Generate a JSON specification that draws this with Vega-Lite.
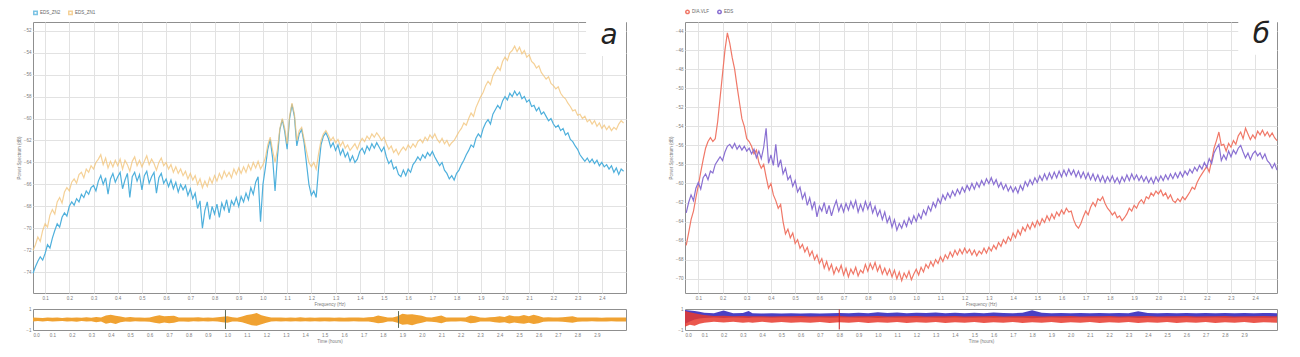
{
"$schema":"https://vega.github.io/schema/vega-lite/v6.json",
"background":"white",
"padding":{"left":15,"top":9,"right":5,"bottom":5},
"config":{
 "font":"Liberation Sans",
 "view":{"stroke":"#8f8f8f","fill":"white"},
 "axis":{"labelFontSize":4.5,"labelColor":"#7a7a7a","titleFontSize":4.5,"titleColor":"#7a7a7a","titleFontWeight":"normal","gridColor":"#e2e2e2","domain":false,"ticks":false,"labelPadding":2,"titlePadding":2,"labelOverlap":false,"labelBound":false,"tickCount":100},
 "legend":{"labelFontSize":4.5,"labelColor":"#666","orient":"top","direction":"horizontal","title":null,"symbolSize":12,"offset":3,"padding":0,"columnPadding":4,"labelOffset":2}
},
"datasets":{
"one":[{}],
"spA":[
{"f":0.05,"b":-74.1,"o":-72.0},{"f":0.06,"b":-73.5,"o":-71.5},{"f":0.07,"b":-73.0,"o":-70.8},{"f":0.08,"b":-72.6,"o":-71.2},{"f":0.09,"b":-72.9,"o":-70.2},{"f":0.10,"b":-72.3,"o":-69.6},{"f":0.11,"b":-71.5,"o":-69.9},{"f":0.12,"b":-71.8,"o":-68.8},{"f":0.13,"b":-70.9,"o":-68.3},{"f":0.14,"b":-70.2,"o":-68.7},{"f":0.15,"b":-69.6,"o":-67.6},{"f":0.16,"b":-69.9,"o":-67.2},{"f":0.17,"b":-69.0,"o":-67.7},{"f":0.18,"b":-68.6,"o":-66.7},{"f":0.19,"b":-68.9,"o":-66.3},{"f":0.20,"b":-68.0,"o":-66.6},{"f":0.21,"b":-67.6,"o":-65.8},{"f":0.22,"b":-67.9,"o":-65.5},{"f":0.23,"b":-67.3,"o":-65.9},{"f":0.24,"b":-67.6,"o":-65.1},{"f":0.25,"b":-66.9,"o":-64.9},{"f":0.26,"b":-67.2,"o":-65.4},{"f":0.27,"b":-66.6,"o":-64.6},{"f":0.28,"b":-66.9,"o":-64.9},{"f":0.29,"b":-66.3,"o":-64.3},{"f":0.30,"b":-66.1,"o":-64.6},{"f":0.31,"b":-66.6,"o":-64.0},{"f":0.32,"b":-65.7,"o":-63.7},{"f":0.33,"b":-65.2,"o":-63.3},{"f":0.34,"b":-66.0,"o":-64.2},{"f":0.35,"b":-65.4,"o":-63.6},{"f":0.36,"b":-66.9,"o":-64.5},{"f":0.37,"b":-65.5,"o":-63.9},{"f":0.38,"b":-65.0,"o":-64.4},{"f":0.39,"b":-65.8,"o":-63.8},{"f":0.40,"b":-65.3,"o":-64.3},{"f":0.41,"b":-64.9,"o":-63.7},{"f":0.42,"b":-66.4,"o":-64.6},{"f":0.43,"b":-65.6,"o":-63.8},{"f":0.44,"b":-65.0,"o":-64.2},{"f":0.45,"b":-67.2,"o":-64.8},{"f":0.46,"b":-65.3,"o":-63.9},{"f":0.47,"b":-64.9,"o":-63.5},{"f":0.48,"b":-65.7,"o":-64.3},{"f":0.49,"b":-65.1,"o":-63.8},{"f":0.50,"b":-66.5,"o":-64.4},{"f":0.51,"b":-65.2,"o":-63.9},{"f":0.52,"b":-64.8,"o":-63.4},{"f":0.53,"b":-65.9,"o":-64.2},{"f":0.54,"b":-65.3,"o":-63.7},{"f":0.55,"b":-64.9,"o":-64.1},{"f":0.56,"b":-66.8,"o":-64.7},{"f":0.57,"b":-65.4,"o":-64.0},{"f":0.58,"b":-65.0,"o":-63.6},{"f":0.59,"b":-65.9,"o":-64.3},{"f":0.60,"b":-65.5,"o":-64.0},{"f":0.61,"b":-66.2,"o":-64.6},{"f":0.62,"b":-65.6,"o":-64.2},{"f":0.63,"b":-66.4,"o":-64.9},{"f":0.64,"b":-65.8,"o":-64.4},{"f":0.65,"b":-66.7,"o":-65.0},{"f":0.66,"b":-66.0,"o":-64.6},{"f":0.67,"b":-66.5,"o":-65.2},{"f":0.68,"b":-66.1,"o":-64.8},{"f":0.69,"b":-67.0,"o":-65.5},{"f":0.70,"b":-66.4,"o":-65.0},{"f":0.71,"b":-67.3,"o":-65.6},{"f":0.72,"b":-66.8,"o":-65.2},{"f":0.73,"b":-68.2,"o":-66.0},{"f":0.74,"b":-67.5,"o":-65.5},{"f":0.75,"b":-70.0,"o":-66.3},{"f":0.76,"b":-68.4,"o":-65.7},{"f":0.77,"b":-67.6,"o":-66.2},{"f":0.78,"b":-69.2,"o":-65.4},{"f":0.79,"b":-68.0,"o":-65.9},{"f":0.80,"b":-68.7,"o":-65.2},{"f":0.81,"b":-67.8,"o":-65.7},{"f":0.82,"b":-69.0,"o":-65.0},{"f":0.83,"b":-67.7,"o":-65.5},{"f":0.84,"b":-68.3,"o":-64.8},{"f":0.85,"b":-67.4,"o":-65.3},{"f":0.86,"b":-68.6,"o":-64.9},{"f":0.87,"b":-67.5,"o":-65.4},{"f":0.88,"b":-67.9,"o":-64.6},{"f":0.89,"b":-67.2,"o":-65.1},{"f":0.90,"b":-68.0,"o":-64.5},{"f":0.91,"b":-67.1,"o":-65.0},{"f":0.92,"b":-67.6,"o":-64.4},{"f":0.93,"b":-66.8,"o":-64.9},{"f":0.94,"b":-67.4,"o":-64.2},{"f":0.95,"b":-66.3,"o":-64.7},{"f":0.96,"b":-66.9,"o":-64.0},{"f":0.97,"b":-65.8,"o":-64.5},{"f":0.98,"b":-65.3,"o":-63.9},{"f":0.99,"b":-69.4,"o":-64.6},{"f":1.00,"b":-66.0,"o":-64.2},
{"f":1.01,"b":-64.5,"o":-63.6},{"f":1.02,"b":-62.8,"o":-62.4},{"f":1.03,"b":-61.9,"o":-61.7},{"f":1.04,"b":-63.6,"o":-62.9},{"f":1.05,"b":-66.6,"o":-64.0},{"f":1.06,"b":-63.5,"o":-62.8},{"f":1.07,"b":-61.0,"o":-60.9},{"f":1.08,"b":-60.1,"o":-60.0},{"f":1.09,"b":-61.2,"o":-60.9},{"f":1.10,"b":-62.8,"o":-62.3},{"f":1.11,"b":-60.0,"o":-59.8},{"f":1.12,"b":-58.7,"o":-58.6},{"f":1.13,"b":-59.8,"o":-59.6},{"f":1.14,"b":-62.5,"o":-62.0},{"f":1.15,"b":-61.4,"o":-61.1},{"f":1.16,"b":-61.0,"o":-60.8},{"f":1.17,"b":-62.2,"o":-61.9},{"f":1.18,"b":-64.1,"o":-63.0},{"f":1.19,"b":-66.0,"o":-64.0},{"f":1.20,"b":-67.0,"o":-64.4},{"f":1.21,"b":-66.6,"o":-64.0},{"f":1.22,"b":-67.2,"o":-64.6},{"f":1.23,"b":-64.5,"o":-63.2},{"f":1.24,"b":-62.4,"o":-62.0},{"f":1.25,"b":-61.6,"o":-61.4},{"f":1.26,"b":-61.3,"o":-61.1},{"f":1.27,"b":-61.8,"o":-61.5},{"f":1.28,"b":-62.6,"o":-62.0},{"f":1.29,"b":-62.2,"o":-61.7},{"f":1.30,"b":-62.9,"o":-62.2},{"f":1.31,"b":-62.4,"o":-61.9},{"f":1.32,"b":-63.3,"o":-62.5},{"f":1.33,"b":-62.8,"o":-62.1},{"f":1.34,"b":-63.5,"o":-62.7},{"f":1.35,"b":-63.1,"o":-62.4},{"f":1.36,"b":-63.9,"o":-62.9},{"f":1.37,"b":-63.4,"o":-62.6},{"f":1.38,"b":-64.0,"o":-62.3},{"f":1.39,"b":-63.7,"o":-62.8},{"f":1.40,"b":-63.0,"o":-62.2},{"f":1.41,"b":-62.7,"o":-61.8},{"f":1.42,"b":-63.2,"o":-62.1},{"f":1.43,"b":-62.5,"o":-61.6},{"f":1.44,"b":-62.9,"o":-61.9},{"f":1.45,"b":-62.3,"o":-61.4},{"f":1.46,"b":-62.7,"o":-61.7},{"f":1.47,"b":-62.2,"o":-61.3},{"f":1.48,"b":-62.6,"o":-61.6},{"f":1.49,"b":-63.0,"o":-62.0},{"f":1.50,"b":-62.6,"o":-61.7},{"f":1.51,"b":-63.5,"o":-62.3},{"f":1.52,"b":-64.1,"o":-62.8},{"f":1.53,"b":-63.8,"o":-62.5},{"f":1.54,"b":-64.6,"o":-63.1},{"f":1.55,"b":-64.4,"o":-62.8},{"f":1.56,"b":-65.1,"o":-63.3},{"f":1.57,"b":-65.3,"o":-62.9},{"f":1.58,"b":-64.7,"o":-62.6},{"f":1.59,"b":-65.2,"o":-62.9},{"f":1.60,"b":-64.6,"o":-62.4},{"f":1.61,"b":-64.9,"o":-62.7},{"f":1.62,"b":-64.2,"o":-62.3},{"f":1.63,"b":-63.9,"o":-62.6},{"f":1.64,"b":-63.5,"o":-62.1},{"f":1.65,"b":-63.8,"o":-61.9},{"f":1.66,"b":-63.3,"o":-62.2},{"f":1.67,"b":-63.6,"o":-61.7},{"f":1.68,"b":-63.1,"o":-62.0},{"f":1.69,"b":-63.4,"o":-61.5},{"f":1.70,"b":-63.0,"o":-61.8},{"f":1.71,"b":-63.5,"o":-61.4},{"f":1.72,"b":-63.9,"o":-61.9},{"f":1.73,"b":-64.3,"o":-62.2},{"f":1.74,"b":-64.0,"o":-61.8},{"f":1.75,"b":-64.7,"o":-62.3},{"f":1.76,"b":-65.0,"o":-62.0},{"f":1.77,"b":-65.5,"o":-62.5},{"f":1.78,"b":-65.2,"o":-62.2},{"f":1.79,"b":-65.6,"o":-62.0},{"f":1.80,"b":-65.0,"o":-61.6},{"f":1.81,"b":-64.7,"o":-61.2},{"f":1.82,"b":-64.2,"o":-60.9},{"f":1.83,"b":-63.8,"o":-60.4},{"f":1.84,"b":-63.3,"o":-60.6},{"f":1.85,"b":-62.9,"o":-60.0},{"f":1.86,"b":-62.4,"o":-59.5},{"f":1.87,"b":-62.6,"o":-59.8},{"f":1.88,"b":-61.8,"o":-59.0},{"f":1.89,"b":-61.4,"o":-58.5},{"f":1.90,"b":-61.7,"o":-58.0},{"f":1.91,"b":-60.9,"o":-57.6},{"f":1.92,"b":-60.4,"o":-57.0},{"f":1.93,"b":-60.1,"o":-56.6},{"f":1.94,"b":-60.5,"o":-56.9},{"f":1.95,"b":-59.6,"o":-56.1},{"f":1.96,"b":-59.2,"o":-55.7},{"f":1.97,"b":-58.8,"o":-55.3},{"f":1.98,"b":-59.1,"o":-55.6},{"f":1.99,"b":-58.4,"o":-54.8},{"f":2.00,"b":-58.0,"o":-54.4},{"f":2.01,"b":-58.3,"o":-54.7},{"f":2.02,"b":-57.7,"o":-54.0},{"f":2.03,"b":-58.0,"o":-53.8},{"f":2.04,"b":-57.5,"o":-53.4},{"f":2.05,"b":-57.9,"o":-53.9},{"f":2.06,"b":-57.6,"o":-53.5},{"f":2.07,"b":-58.2,"o":-54.1},{"f":2.08,"b":-58.0,"o":-53.8},{"f":2.09,"b":-58.5,"o":-54.4},{"f":2.10,"b":-58.3,"o":-54.2},{"f":2.11,"b":-58.9,"o":-54.8},{"f":2.12,"b":-58.8,"o":-55.0},{"f":2.13,"b":-59.3,"o":-55.4},{"f":2.14,"b":-59.0,"o":-55.2},{"f":2.15,"b":-59.6,"o":-55.8},{"f":2.16,"b":-59.4,"o":-56.1},{"f":2.17,"b":-59.8,"o":-56.4},{"f":2.18,"b":-60.2,"o":-56.2},{"f":2.19,"b":-60.0,"o":-56.8},{"f":2.20,"b":-60.5,"o":-57.0},{"f":2.21,"b":-60.8,"o":-57.3},{"f":2.22,"b":-60.6,"o":-57.1},{"f":2.23,"b":-61.1,"o":-57.7},{"f":2.24,"b":-60.9,"o":-58.0},{"f":2.25,"b":-61.5,"o":-58.2},{"f":2.26,"b":-61.3,"o":-58.6},{"f":2.27,"b":-61.9,"o":-58.9},{"f":2.28,"b":-62.1,"o":-59.3},{"f":2.29,"b":-62.5,"o":-59.2},{"f":2.30,"b":-62.8,"o":-59.7},{"f":2.31,"b":-63.3,"o":-59.6},{"f":2.32,"b":-63.6,"o":-60.0},{"f":2.33,"b":-63.9,"o":-59.8},{"f":2.34,"b":-63.6,"o":-60.3},{"f":2.35,"b":-64.0,"o":-60.1},{"f":2.36,"b":-63.7,"o":-60.5},{"f":2.37,"b":-64.1,"o":-60.2},{"f":2.38,"b":-63.8,"o":-60.7},{"f":2.39,"b":-64.3,"o":-60.4},{"f":2.40,"b":-64.0,"o":-60.9},{"f":2.41,"b":-64.4,"o":-60.6},{"f":2.42,"b":-64.2,"o":-61.0},{"f":2.43,"b":-64.6,"o":-60.7},{"f":2.44,"b":-64.3,"o":-61.1},{"f":2.45,"b":-64.9,"o":-60.8},{"f":2.46,"b":-64.5,"o":-61.0},{"f":2.47,"b":-65.1,"o":-60.5},{"f":2.48,"b":-64.6,"o":-60.2},{"f":2.49,"b":-64.8,"o":-60.4}
],
"spB":[
{"f":0.05,"r":-66.5,"p":-63.1},{"f":0.06,"r":-65.2,"p":-62.0},{"f":0.07,"r":-63.8,"p":-61.2},{"f":0.08,"r":-62.9,"p":-61.8},{"f":0.09,"r":-61.5,"p":-60.5},{"f":0.10,"r":-60.2,"p":-59.9},{"f":0.11,"r":-58.8,"p":-60.6},{"f":0.12,"r":-57.5,"p":-59.4},{"f":0.13,"r":-56.3,"p":-59.0},{"f":0.14,"r":-55.6,"p":-59.6},{"f":0.15,"r":-55.2,"p":-58.7},{"f":0.16,"r":-55.6,"p":-58.9},{"f":0.17,"r":-55.3,"p":-58.0},{"f":0.18,"r":-53.5,"p":-57.6},{"f":0.19,"r":-51.0,"p":-57.2},{"f":0.20,"r":-48.5,"p":-57.6},{"f":0.21,"r":-46.0,"p":-56.7},{"f":0.22,"r":-44.2,"p":-56.1},{"f":0.23,"r":-45.3,"p":-55.9},{"f":0.24,"r":-46.8,"p":-56.3},{"f":0.25,"r":-48.0,"p":-55.8},{"f":0.26,"r":-49.8,"p":-56.4},{"f":0.27,"r":-51.5,"p":-56.0},{"f":0.28,"r":-53.2,"p":-56.5},{"f":0.29,"r":-54.0,"p":-56.1},{"f":0.30,"r":-55.3,"p":-56.6},{"f":0.31,"r":-55.6,"p":-56.3},{"f":0.32,"r":-56.1,"p":-56.9},{"f":0.33,"r":-56.9,"p":-56.4},{"f":0.34,"r":-56.5,"p":-57.3},{"f":0.35,"r":-57.8,"p":-56.6},{"f":0.36,"r":-58.4,"p":-57.4},{"f":0.37,"r":-58.0,"p":-56.2},{"f":0.38,"r":-59.3,"p":-54.2},{"f":0.39,"r":-60.5,"p":-57.9},{"f":0.40,"r":-60.0,"p":-57.0},{"f":0.41,"r":-61.2,"p":-58.1},{"f":0.42,"r":-61.8,"p":-55.9},{"f":0.43,"r":-62.6,"p":-58.3},{"f":0.44,"r":-62.2,"p":-57.5},{"f":0.45,"r":-64.0,"p":-59.0},{"f":0.46,"r":-65.3,"p":-58.4},{"f":0.47,"r":-64.8,"p":-59.6},{"f":0.48,"r":-65.7,"p":-59.2},{"f":0.49,"r":-65.2,"p":-60.3},{"f":0.50,"r":-66.3,"p":-59.7},{"f":0.51,"r":-65.9,"p":-60.9},{"f":0.52,"r":-66.8,"p":-60.4},{"f":0.53,"r":-66.4,"p":-61.6},{"f":0.54,"r":-67.2,"p":-61.0},{"f":0.55,"r":-66.7,"p":-62.3},{"f":0.56,"r":-67.6,"p":-61.5},{"f":0.57,"r":-67.1,"p":-62.7},{"f":0.58,"r":-68.0,"p":-61.9},{"f":0.59,"r":-67.5,"p":-63.5},{"f":0.60,"r":-68.4,"p":-62.4},{"f":0.61,"r":-67.9,"p":-62.9},{"f":0.62,"r":-68.9,"p":-62.0},{"f":0.63,"r":-68.2,"p":-63.2},{"f":0.64,"r":-69.1,"p":-62.3},{"f":0.65,"r":-68.5,"p":-63.4},{"f":0.66,"r":-69.5,"p":-62.5},{"f":0.67,"r":-68.8,"p":-61.8},{"f":0.68,"r":-69.3,"p":-62.9},{"f":0.69,"r":-68.6,"p":-62.2},{"f":0.70,"r":-69.6,"p":-63.0},{"f":0.71,"r":-68.9,"p":-62.1},{"f":0.72,"r":-69.8,"p":-62.8},{"f":0.73,"r":-69.0,"p":-61.9},{"f":0.74,"r":-69.5,"p":-62.6},{"f":0.75,"r":-68.8,"p":-61.8},{"f":0.76,"r":-69.7,"p":-63.0},{"f":0.77,"r":-69.1,"p":-62.2},{"f":0.78,"r":-69.4,"p":-62.9},{"f":0.79,"r":-68.5,"p":-61.9},{"f":0.80,"r":-69.2,"p":-62.7},{"f":0.81,"r":-68.4,"p":-62.0},{"f":0.82,"r":-69.0,"p":-63.1},{"f":0.83,"r":-68.3,"p":-62.4},{"f":0.84,"r":-69.2,"p":-63.4},{"f":0.85,"r":-68.6,"p":-62.8},{"f":0.86,"r":-69.5,"p":-63.8},{"f":0.87,"r":-68.9,"p":-63.0},{"f":0.88,"r":-69.6,"p":-64.1},{"f":0.89,"r":-69.0,"p":-63.5},{"f":0.90,"r":-69.8,"p":-64.6},{"f":0.91,"r":-69.1,"p":-63.8},{"f":0.92,"r":-70.0,"p":-64.9},{"f":0.93,"r":-69.3,"p":-64.2},{"f":0.94,"r":-70.2,"p":-64.7},{"f":0.95,"r":-69.4,"p":-63.9},{"f":0.96,"r":-69.9,"p":-64.5},{"f":0.97,"r":-69.2,"p":-63.6},{"f":0.98,"r":-70.1,"p":-64.2},{"f":0.99,"r":-69.5,"p":-63.4},{"f":1.00,"r":-69.0,"p":-64.0},
{"f":1.01,"r":-69.6,"p":-63.2},{"f":1.02,"r":-68.8,"p":-63.7},{"f":1.03,"r":-69.3,"p":-62.8},{"f":1.04,"r":-68.5,"p":-63.3},{"f":1.05,"r":-68.9,"p":-62.4},{"f":1.06,"r":-68.2,"p":-62.9},{"f":1.07,"r":-68.7,"p":-62.0},{"f":1.08,"r":-68.0,"p":-62.5},{"f":1.09,"r":-68.4,"p":-61.6},{"f":1.10,"r":-67.7,"p":-62.1},{"f":1.11,"r":-68.2,"p":-61.2},{"f":1.12,"r":-67.5,"p":-61.7},{"f":1.13,"r":-67.9,"p":-61.0},{"f":1.14,"r":-67.2,"p":-61.5},{"f":1.15,"r":-67.7,"p":-60.8},{"f":1.16,"r":-67.0,"p":-61.3},{"f":1.17,"r":-67.5,"p":-60.6},{"f":1.18,"r":-66.9,"p":-61.1},{"f":1.19,"r":-67.4,"p":-60.4},{"f":1.20,"r":-66.8,"p":-60.9},{"f":1.21,"r":-67.3,"p":-60.2},{"f":1.22,"r":-66.9,"p":-60.7},{"f":1.23,"r":-67.5,"p":-60.0},{"f":1.24,"r":-67.0,"p":-60.6},{"f":1.25,"r":-67.6,"p":-59.9},{"f":1.26,"r":-67.1,"p":-60.4},{"f":1.27,"r":-67.4,"p":-59.7},{"f":1.28,"r":-66.8,"p":-60.2},{"f":1.29,"r":-67.3,"p":-59.5},{"f":1.30,"r":-66.7,"p":-60.0},{"f":1.31,"r":-67.1,"p":-59.4},{"f":1.32,"r":-66.5,"p":-60.1},{"f":1.33,"r":-66.9,"p":-59.6},{"f":1.34,"r":-66.2,"p":-60.4},{"f":1.35,"r":-66.6,"p":-59.9},{"f":1.36,"r":-65.9,"p":-60.6},{"f":1.37,"r":-66.3,"p":-60.1},{"f":1.38,"r":-65.6,"p":-60.8},{"f":1.39,"r":-66.0,"p":-60.3},{"f":1.40,"r":-65.2,"p":-60.9},{"f":1.41,"r":-65.7,"p":-60.4},{"f":1.42,"r":-64.9,"p":-61.0},{"f":1.43,"r":-65.4,"p":-60.2},{"f":1.44,"r":-64.6,"p":-60.7},{"f":1.45,"r":-65.0,"p":-59.8},{"f":1.46,"r":-64.3,"p":-60.3},{"f":1.47,"r":-64.8,"p":-59.6},{"f":1.48,"r":-64.1,"p":-60.1},{"f":1.49,"r":-64.6,"p":-59.4},{"f":1.50,"r":-63.9,"p":-59.9},{"f":1.51,"r":-64.4,"p":-59.2},{"f":1.52,"r":-63.7,"p":-59.7},{"f":1.53,"r":-64.1,"p":-59.0},{"f":1.54,"r":-63.4,"p":-59.6},{"f":1.55,"r":-63.9,"p":-58.9},{"f":1.56,"r":-63.2,"p":-59.5},{"f":1.57,"r":-63.7,"p":-58.8},{"f":1.58,"r":-63.0,"p":-59.4},{"f":1.59,"r":-63.4,"p":-58.7},{"f":1.60,"r":-62.8,"p":-59.3},{"f":1.61,"r":-63.2,"p":-58.6},{"f":1.62,"r":-62.6,"p":-59.2},{"f":1.63,"r":-63.0,"p":-58.5},{"f":1.64,"r":-62.9,"p":-59.1},{"f":1.65,"r":-63.8,"p":-58.6},{"f":1.66,"r":-64.4,"p":-59.3},{"f":1.67,"r":-64.7,"p":-58.7},{"f":1.68,"r":-64.2,"p":-59.4},{"f":1.69,"r":-63.5,"p":-58.8},{"f":1.70,"r":-62.9,"p":-59.5},{"f":1.71,"r":-63.3,"p":-58.9},{"f":1.72,"r":-62.5,"p":-59.6},{"f":1.73,"r":-62.0,"p":-59.0},{"f":1.74,"r":-62.4,"p":-59.7},{"f":1.75,"r":-61.6,"p":-59.1},{"f":1.76,"r":-61.8,"p":-59.8},{"f":1.77,"r":-61.4,"p":-59.2},{"f":1.78,"r":-62.1,"p":-59.9},{"f":1.79,"r":-62.6,"p":-59.3},{"f":1.80,"r":-62.9,"p":-59.8},{"f":1.81,"r":-63.3,"p":-59.2},{"f":1.82,"r":-63.0,"p":-59.9},{"f":1.83,"r":-63.6,"p":-59.4},{"f":1.84,"r":-63.4,"p":-60.0},{"f":1.85,"r":-63.9,"p":-59.3},{"f":1.86,"r":-63.6,"p":-59.8},{"f":1.87,"r":-63.2,"p":-59.1},{"f":1.88,"r":-62.6,"p":-59.7},{"f":1.89,"r":-62.9,"p":-59.0},{"f":1.90,"r":-62.3,"p":-59.6},{"f":1.91,"r":-62.6,"p":-59.1},{"f":1.92,"r":-62.0,"p":-59.7},{"f":1.93,"r":-61.7,"p":-59.2},{"f":1.94,"r":-62.1,"p":-59.8},{"f":1.95,"r":-61.4,"p":-59.3},{"f":1.96,"r":-61.6,"p":-59.9},{"f":1.97,"r":-61.0,"p":-59.4},{"f":1.98,"r":-61.3,"p":-60.0},{"f":1.99,"r":-60.8,"p":-59.3},{"f":2.00,"r":-61.1,"p":-59.8},{"f":2.01,"r":-60.7,"p":-59.2},{"f":2.02,"r":-61.3,"p":-59.7},{"f":2.03,"r":-61.0,"p":-59.1},{"f":2.04,"r":-61.6,"p":-59.6},{"f":2.05,"r":-61.2,"p":-59.0},{"f":2.06,"r":-61.8,"p":-59.5},{"f":2.07,"r":-62.0,"p":-58.9},{"f":2.08,"r":-61.6,"p":-59.4},{"f":2.09,"r":-61.9,"p":-58.8},{"f":2.10,"r":-61.4,"p":-59.3},{"f":2.11,"r":-61.7,"p":-58.7},{"f":2.12,"r":-61.3,"p":-59.1},{"f":2.13,"r":-60.9,"p":-58.5},{"f":2.14,"r":-60.4,"p":-58.9},{"f":2.15,"r":-60.6,"p":-58.3},{"f":2.16,"r":-59.9,"p":-58.7},{"f":2.17,"r":-59.4,"p":-58.1},{"f":2.18,"r":-59.0,"p":-58.5},{"f":2.19,"r":-58.6,"p":-57.8},{"f":2.20,"r":-58.2,"p":-58.3},{"f":2.21,"r":-58.8,"p":-57.4},{"f":2.22,"r":-57.6,"p":-57.9},{"f":2.23,"r":-56.3,"p":-56.8},{"f":2.24,"r":-55.5,"p":-56.3},{"f":2.25,"r":-54.6,"p":-55.9},{"f":2.26,"r":-56.0,"p":-57.6},{"f":2.27,"r":-55.9,"p":-57.0},{"f":2.28,"r":-56.6,"p":-57.5},{"f":2.29,"r":-55.8,"p":-56.6},{"f":2.30,"r":-56.2,"p":-57.2},{"f":2.31,"r":-55.5,"p":-56.5},{"f":2.32,"r":-55.9,"p":-56.9},{"f":2.33,"r":-55.0,"p":-56.3},{"f":2.34,"r":-54.6,"p":-56.0},{"f":2.35,"r":-55.3,"p":-56.7},{"f":2.36,"r":-54.2,"p":-57.3},{"f":2.37,"r":-54.8,"p":-56.8},{"f":2.38,"r":-55.4,"p":-57.5},{"f":2.39,"r":-54.9,"p":-56.9},{"f":2.40,"r":-55.3,"p":-56.6},{"f":2.41,"r":-54.5,"p":-57.1},{"f":2.42,"r":-54.9,"p":-56.8},{"f":2.43,"r":-54.4,"p":-57.4},{"f":2.44,"r":-55.0,"p":-56.9},{"f":2.45,"r":-54.6,"p":-57.6},{"f":2.46,"r":-55.1,"p":-57.9},{"f":2.47,"r":-54.7,"p":-58.4},{"f":2.48,"r":-55.2,"p":-57.9},{"f":2.49,"r":-55.5,"p":-58.6}
],
"stA":[
{"t":0,"lo":-0.2,"hi":0.2},{"t":0.025,"lo":-0.15,"hi":0.17},{"t":0.05,"lo":-0.18,"hi":0.15},{"t":0.075,"lo":-0.14,"hi":0.19},{"t":0.1,"lo":-0.2,"hi":0.16},{"t":0.125,"lo":-0.16,"hi":0.2},{"t":0.15,"lo":-0.15,"hi":0.15},{"t":0.175,"lo":-0.19,"hi":0.18},{"t":0.2,"lo":-0.16,"hi":0.17},{"t":0.225,"lo":-0.22,"hi":0.2},{"t":0.25,"lo":-0.15,"hi":0.16},{"t":0.275,"lo":-0.2,"hi":0.22},{"t":0.3,"lo":-0.17,"hi":0.16},{"t":0.325,"lo":-0.25,"hi":0.24},{"t":0.35,"lo":-0.18,"hi":0.2},{"t":0.375,"lo":-0.4,"hi":0.38},{"t":0.4,"lo":-0.3,"hi":0.45},{"t":0.425,"lo":-0.42,"hi":0.35},{"t":0.45,"lo":-0.25,"hi":0.28},{"t":0.475,"lo":-0.2,"hi":0.18},{"t":0.5,"lo":-0.22,"hi":0.24},{"t":0.525,"lo":-0.17,"hi":0.18},{"t":0.55,"lo":-0.2,"hi":0.2},{"t":0.575,"lo":-0.18,"hi":0.17},{"t":0.6,"lo":-0.22,"hi":0.2},{"t":0.625,"lo":-0.3,"hi":0.32},{"t":0.65,"lo":-0.38,"hi":0.4},{"t":0.675,"lo":-0.28,"hi":0.3},{"t":0.7,"lo":-0.36,"hi":0.34},{"t":0.725,"lo":-0.3,"hi":0.35},{"t":0.75,"lo":-0.2,"hi":0.2},{"t":0.775,"lo":-0.18,"hi":0.2},{"t":0.8,"lo":-0.22,"hi":0.19},{"t":0.825,"lo":-0.17,"hi":0.18},{"t":0.85,"lo":-0.2,"hi":0.21},{"t":0.875,"lo":-0.16,"hi":0.17},{"t":0.9,"lo":-0.19,"hi":0.2},{"t":0.925,"lo":-0.17,"hi":0.16},{"t":0.95,"lo":-0.2,"hi":0.22},{"t":0.975,"lo":-0.25,"hi":0.26},{"t":1.0,"lo":-0.3,"hi":0.3},{"t":1.025,"lo":-0.2,"hi":0.22},{"t":1.05,"lo":-0.18,"hi":0.17},{"t":1.075,"lo":-0.25,"hi":0.28},{"t":1.1,"lo":-0.4,"hi":0.42},{"t":1.125,"lo":-0.55,"hi":0.5},{"t":1.15,"lo":-0.6,"hi":0.62},{"t":1.175,"lo":-0.45,"hi":0.4},{"t":1.2,"lo":-0.3,"hi":0.28},{"t":1.225,"lo":-0.2,"hi":0.2},{"t":1.25,"lo":-0.17,"hi":0.18},{"t":1.275,"lo":-0.2,"hi":0.19},{"t":1.3,"lo":-0.16,"hi":0.17},{"t":1.325,"lo":-0.19,"hi":0.2},{"t":1.35,"lo":-0.17,"hi":0.16},{"t":1.375,"lo":-0.2,"hi":0.21},{"t":1.4,"lo":-0.16,"hi":0.17},{"t":1.425,"lo":-0.18,"hi":0.2},{"t":1.45,"lo":-0.17,"hi":0.16},{"t":1.475,"lo":-0.2,"hi":0.19},{"t":1.5,"lo":-0.16,"hi":0.18},{"t":1.525,"lo":-0.19,"hi":0.2},{"t":1.55,"lo":-0.17,"hi":0.16},{"t":1.575,"lo":-0.2,"hi":0.19},{"t":1.6,"lo":-0.18,"hi":0.17},{"t":1.625,"lo":-0.19,"hi":0.2},{"t":1.65,"lo":-0.17,"hi":0.18},{"t":1.675,"lo":-0.2,"hi":0.2},{"t":1.7,"lo":-0.18,"hi":0.17},{"t":1.725,"lo":-0.2,"hi":0.22},{"t":1.75,"lo":-0.25,"hi":0.24},{"t":1.775,"lo":-0.35,"hi":0.38},{"t":1.8,"lo":-0.3,"hi":0.28},{"t":1.825,"lo":-0.2,"hi":0.2},{"t":1.85,"lo":-0.18,"hi":0.2},{"t":1.875,"lo":-0.3,"hi":0.32},{"t":1.9,"lo":-0.5,"hi":0.55},{"t":1.925,"lo":-0.45,"hi":0.48},{"t":1.95,"lo":-0.55,"hi":0.5},{"t":1.975,"lo":-0.4,"hi":0.42},{"t":2.0,"lo":-0.3,"hi":0.35},{"t":2.025,"lo":-0.2,"hi":0.22},{"t":2.05,"lo":-0.22,"hi":0.2},{"t":2.075,"lo":-0.25,"hi":0.28},{"t":2.1,"lo":-0.35,"hi":0.38},{"t":2.125,"lo":-0.22,"hi":0.2},{"t":2.15,"lo":-0.18,"hi":0.2},{"t":2.175,"lo":-0.2,"hi":0.18},{"t":2.2,"lo":-0.17,"hi":0.19},{"t":2.225,"lo":-0.22,"hi":0.2},{"t":2.25,"lo":-0.35,"hi":0.38},{"t":2.275,"lo":-0.3,"hi":0.32},{"t":2.3,"lo":-0.2,"hi":0.2},{"t":2.325,"lo":-0.18,"hi":0.17},{"t":2.35,"lo":-0.2,"hi":0.22},{"t":2.375,"lo":-0.25,"hi":0.24},{"t":2.4,"lo":-0.3,"hi":0.32},{"t":2.425,"lo":-0.26,"hi":0.25},{"t":2.45,"lo":-0.38,"hi":0.4},{"t":2.475,"lo":-0.28,"hi":0.3},{"t":2.5,"lo":-0.35,"hi":0.32},{"t":2.525,"lo":-0.4,"hi":0.42},{"t":2.55,"lo":-0.3,"hi":0.3},{"t":2.575,"lo":-0.42,"hi":0.45},{"t":2.6,"lo":-0.35,"hi":0.33},{"t":2.625,"lo":-0.22,"hi":0.2},{"t":2.65,"lo":-0.2,"hi":0.22},{"t":2.675,"lo":-0.18,"hi":0.19},{"t":2.7,"lo":-0.2,"hi":0.2},{"t":2.725,"lo":-0.22,"hi":0.21},{"t":2.75,"lo":-0.25,"hi":0.26},{"t":2.775,"lo":-0.3,"hi":0.32},{"t":2.8,"lo":-0.22,"hi":0.2},{"t":2.825,"lo":-0.18,"hi":0.19},{"t":2.85,"lo":-0.2,"hi":0.2},{"t":2.875,"lo":-0.17,"hi":0.18},{"t":2.9,"lo":-0.19,"hi":0.2},{"t":2.925,"lo":-0.18,"hi":0.17},{"t":2.95,"lo":-0.2,"hi":0.19},{"t":2.975,"lo":-0.17,"hi":0.18},{"t":3.0,"lo":-0.19,"hi":0.2},{"t":3.05,"lo":-0.18,"hi":0.18}
],
"stB":[
{"t":0,"blo":-0.4,"bhi":0.9,"rlo":-0.7,"rhi":0.8},{"t":0.025,"blo":-0.2,"bhi":0.85,"rlo":-0.5,"rhi":0.7},{"t":0.05,"blo":0.0,"bhi":0.8,"rlo":-0.6,"rhi":0.6},{"t":0.075,"blo":0.1,"bhi":0.75,"rlo":-0.4,"rhi":0.5},{"t":0.1,"blo":0.15,"bhi":0.65,"rlo":-0.3,"rhi":0.42},{"t":0.15,"blo":0.18,"bhi":0.6,"rlo":-0.22,"rhi":0.33},{"t":0.2,"blo":0.15,"bhi":0.85,"rlo":-0.28,"rhi":0.35},{"t":0.25,"blo":0.18,"bhi":0.6,"rlo":-0.22,"rhi":0.3},{"t":0.3,"blo":0.17,"bhi":0.62,"rlo":-0.3,"rhi":0.33},{"t":0.33,"blo":0.15,"bhi":0.8,"rlo":-0.25,"rhi":0.3},{"t":0.35,"blo":0.18,"bhi":0.6,"rlo":-0.3,"rhi":0.32},{"t":0.4,"blo":0.2,"bhi":0.58,"rlo":-0.22,"rhi":0.3},{"t":0.45,"blo":0.17,"bhi":0.6,"rlo":-0.3,"rhi":0.28},{"t":0.5,"blo":0.18,"bhi":0.57,"rlo":-0.24,"rhi":0.32},{"t":0.55,"blo":0.2,"bhi":0.6,"rlo":-0.32,"rhi":0.3},{"t":0.6,"blo":0.17,"bhi":0.58,"rlo":-0.25,"rhi":0.33},{"t":0.65,"blo":0.18,"bhi":0.6,"rlo":-0.3,"rhi":0.28},{"t":0.7,"blo":0.2,"bhi":0.58,"rlo":-0.24,"rhi":0.32},{"t":0.75,"blo":0.17,"bhi":0.6,"rlo":-0.33,"rhi":0.3},{"t":0.8,"blo":0.18,"bhi":0.62,"rlo":-0.26,"rhi":0.34},{"t":0.85,"blo":0.2,"bhi":0.6,"rlo":-0.3,"rhi":0.28},{"t":0.9,"blo":0.16,"bhi":0.65,"rlo":-0.24,"rhi":0.32},{"t":0.95,"blo":0.18,"bhi":0.6,"rlo":-0.33,"rhi":0.3},{"t":1.0,"blo":0.15,"bhi":0.68,"rlo":-0.26,"rhi":0.33},{"t":1.05,"blo":0.18,"bhi":0.62,"rlo":-0.3,"rhi":0.28},{"t":1.1,"blo":0.16,"bhi":0.66,"rlo":-0.24,"rhi":0.32},{"t":1.15,"blo":0.18,"bhi":0.6,"rlo":-0.33,"rhi":0.3},{"t":1.2,"blo":0.16,"bhi":0.65,"rlo":-0.25,"rhi":0.33},{"t":1.25,"blo":0.18,"bhi":0.62,"rlo":-0.3,"rhi":0.28},{"t":1.3,"blo":0.17,"bhi":0.66,"rlo":-0.24,"rhi":0.32},{"t":1.35,"blo":0.16,"bhi":0.6,"rlo":-0.33,"rhi":0.3},{"t":1.4,"blo":0.18,"bhi":0.64,"rlo":-0.25,"rhi":0.33},{"t":1.45,"blo":0.17,"bhi":0.6,"rlo":-0.3,"rhi":0.28},{"t":1.5,"blo":0.16,"bhi":0.65,"rlo":-0.24,"rhi":0.32},{"t":1.55,"blo":0.18,"bhi":0.6,"rlo":-0.33,"rhi":0.3},{"t":1.6,"blo":0.16,"bhi":0.66,"rlo":-0.25,"rhi":0.33},{"t":1.65,"blo":0.18,"bhi":0.62,"rlo":-0.3,"rhi":0.28},{"t":1.7,"blo":0.17,"bhi":0.6,"rlo":-0.24,"rhi":0.32},{"t":1.75,"blo":0.16,"bhi":0.65,"rlo":-0.33,"rhi":0.3},{"t":1.8,"blo":0.12,"bhi":0.88,"rlo":-0.25,"rhi":0.33},{"t":1.85,"blo":0.16,"bhi":0.65,"rlo":-0.3,"rhi":0.28},{"t":1.9,"blo":0.18,"bhi":0.6,"rlo":-0.24,"rhi":0.32},{"t":1.95,"blo":0.17,"bhi":0.62,"rlo":-0.33,"rhi":0.3},{"t":2.0,"blo":0.16,"bhi":0.6,"rlo":-0.25,"rhi":0.33},{"t":2.05,"blo":0.18,"bhi":0.62,"rlo":-0.3,"rhi":0.28},{"t":2.1,"blo":0.17,"bhi":0.6,"rlo":-0.24,"rhi":0.32},{"t":2.15,"blo":0.16,"bhi":0.62,"rlo":-0.33,"rhi":0.3},{"t":2.2,"blo":0.18,"bhi":0.6,"rlo":-0.25,"rhi":0.33},{"t":2.25,"blo":0.16,"bhi":0.63,"rlo":-0.3,"rhi":0.28},{"t":2.3,"blo":0.18,"bhi":0.6,"rlo":-0.24,"rhi":0.32},{"t":2.35,"blo":0.15,"bhi":0.78,"rlo":-0.33,"rhi":0.3},{"t":2.4,"blo":0.17,"bhi":0.62,"rlo":-0.25,"rhi":0.33},{"t":2.45,"blo":0.18,"bhi":0.6,"rlo":-0.3,"rhi":0.28},{"t":2.5,"blo":0.17,"bhi":0.62,"rlo":-0.24,"rhi":0.32},{"t":2.55,"blo":0.16,"bhi":0.6,"rlo":-0.33,"rhi":0.3},{"t":2.6,"blo":0.18,"bhi":0.62,"rlo":-0.25,"rhi":0.33},{"t":2.65,"blo":0.17,"bhi":0.6,"rlo":-0.3,"rhi":0.28},{"t":2.7,"blo":0.16,"bhi":0.62,"rlo":-0.24,"rhi":0.32},{"t":2.75,"blo":0.18,"bhi":0.6,"rlo":-0.33,"rhi":0.3},{"t":2.8,"blo":0.17,"bhi":0.62,"rlo":-0.25,"rhi":0.33},{"t":2.85,"blo":0.16,"bhi":0.6,"rlo":-0.3,"rhi":0.28},{"t":2.9,"blo":0.18,"bhi":0.62,"rlo":-0.24,"rhi":0.32},{"t":2.95,"blo":0.17,"bhi":0.6,"rlo":-0.33,"rhi":0.3},{"t":3.0,"blo":0.16,"bhi":0.62,"rlo":-0.25,"rhi":0.33},{"t":3.07,"blo":0.18,"bhi":0.6,"rlo":-0.3,"rhi":0.3}
],
"mkA":[{"t":0.99,"lo":-0.9,"hi":0.9},{"t":1.88,"lo":-0.8,"hi":0.8}],
"mkB":[{"t":0.8,"lo":-0.95,"hi":0.95}]
},
"spacing":40,
"resolve":{"scale":{"color":"independent"}},
"hconcat":[
{"vconcat":[
 {"width":593,"height":271,
  "layer":[
   {"data":{"name":"spA"},"mark":{"type":"line","strokeWidth":1.2},
    "encoding":{
     "x":{"field":"f","type":"quantitative","scale":{"domain":[0.05,2.5],"nice":false,"zero":false},"axis":{"values":[0.1,0.2,0.3,0.4,0.5,0.6,0.7,0.8,0.9,1.0,1.1,1.2,1.3,1.4,1.5,1.6,1.7,1.8,1.9,2.0,2.1,2.2,2.3,2.4],"format":".1f","title":"Frequency (Hz)","labelOverlap":false,"tickCount":100}},
     "y":{"field":"b","type":"quantitative","scale":{"domain":[-75.9,-51.2],"nice":false,"zero":false},"axis":{"values":[-74,-72,-70,-68,-66,-64,-62,-60,-58,-56,-54,-52],"format":"d","title":"Power Spectrum (dB)","labelOverlap":false,"tickCount":100}},
     "color":{"datum":"EDS_ZN2","type":"nominal","scale":{"domain":["EDS_ZN2","EDS_ZN1"],"range":["#4fb0dc","#f2c274"]},"legend":{"symbolType":"square"}}}},
   {"data":{"name":"spA"},"mark":{"type":"line","strokeWidth":1.2,"opacity":0.75},
    "encoding":{"x":{"field":"f","type":"quantitative"},"y":{"field":"o","type":"quantitative"},"color":{"datum":"EDS_ZN1","type":"nominal"}}},
   {"data":{"name":"one"},"mark":{"type":"rect","fill":"white"},
    "encoding":{"x":{"datum":2.335},"x2":{"datum":2.5},"y":{"datum":-54.3},"y2":{"datum":-51.2}}},
   {"data":{"name":"one"},"mark":{"type":"text","text":"a","font":"DejaVu Sans","fontStyle":"italic","fontSize":28,"color":"#222","align":"center","baseline":"alphabetic"},
    "encoding":{"x":{"datum":2.43},"y":{"datum":-53.2}}}
  ]},
 {"width":593,"height":21,
  "layer":[
   {"data":{"name":"stA"},"mark":{"type":"area","color":"#f0a232"},
    "encoding":{
     "x":{"field":"t","type":"quantitative","scale":{"domain":[0,3.05],"nice":false,"zero":false},"axis":{"values":[0,0.1,0.2,0.3,0.4,0.5,0.6,0.7,0.8,0.9,1.0,1.1,1.2,1.3,1.4,1.5,1.6,1.7,1.8,1.9,2.0,2.1,2.2,2.3,2.4,2.5,2.6,2.7,2.8,2.9],"format":".1f","title":"Time (hours)","grid":false,"labelOverlap":false,"tickCount":100}},
     "y":{"field":"hi","type":"quantitative","scale":{"domain":[-1,1],"nice":false},"axis":{"values":[-1,1],"format":"d","title":null,"grid":false,"labelOverlap":false,"tickCount":100}},
     "y2":{"field":"lo"}}},
   {"data":{"name":"mkA"},"mark":{"type":"rule","color":"#5d6b55","strokeWidth":1},
    "encoding":{"x":{"field":"t","type":"quantitative"},"y":{"field":"lo","type":"quantitative"},"y2":{"field":"hi"}}}
  ]}
],"spacing":-2},
{"vconcat":[
 {"width":592,"height":271,
  "layer":[
   {"data":{"name":"spB"},"mark":{"type":"line","strokeWidth":1.2},
    "encoding":{
     "x":{"field":"f","type":"quantitative","scale":{"domain":[0.045,2.49],"nice":false,"zero":false},"axis":{"values":[0.1,0.2,0.3,0.4,0.5,0.6,0.7,0.8,0.9,1.0,1.1,1.2,1.3,1.4,1.5,1.6,1.7,1.8,1.9,2.0,2.1,2.2,2.3,2.4],"format":".1f","title":"Frequency (Hz)","labelOverlap":false,"tickCount":100}},
     "y":{"field":"r","type":"quantitative","scale":{"domain":[-71.5,-43.05],"nice":false,"zero":false},"axis":{"values":[-70,-68,-66,-64,-62,-60,-58,-56,-54,-52,-50,-48,-46,-44],"format":"d","title":"Power Spectrum (dB)","labelOverlap":false,"tickCount":100}},
     "color":{"datum":"DIA.VLF","type":"nominal","scale":{"domain":["DIA.VLF","EDS"],"range":["#f07868","#8a70d2"]},"legend":{"symbolType":"circle"}}}},
   {"data":{"name":"spB"},"mark":{"type":"line","strokeWidth":1.2},
    "encoding":{"x":{"field":"f","type":"quantitative"},"y":{"field":"p","type":"quantitative"},"color":{"datum":"EDS","type":"nominal"}}},
   {"data":{"name":"one"},"mark":{"type":"rect","fill":"white"},
    "encoding":{"x":{"datum":2.33},"x2":{"datum":2.49},"y":{"datum":-46.5},"y2":{"datum":-43.05}}},
   {"data":{"name":"one"},"mark":{"type":"text","text":"б","font":"DejaVu Sans","fontStyle":"italic","fontSize":28,"color":"#222","align":"center","baseline":"alphabetic"},
    "encoding":{"x":{"datum":2.426},"y":{"datum":-45.3}}}
  ]},
 {"width":592,"height":21,
  "layer":[
   {"data":{"name":"stB"},"mark":{"type":"area","color":"#4a40c4"},
    "encoding":{
     "x":{"field":"t","type":"quantitative","scale":{"domain":[0,3.07],"nice":false,"zero":false},"axis":{"values":[0,0.1,0.2,0.3,0.4,0.5,0.6,0.7,0.8,0.9,1.0,1.1,1.2,1.3,1.4,1.5,1.6,1.7,1.8,1.9,2.0,2.1,2.2,2.3,2.4,2.5,2.6,2.7,2.8,2.9],"format":".1f","title":"Time (hours)","grid":false,"labelOverlap":false,"tickCount":100}},
     "y":{"field":"bhi","type":"quantitative","scale":{"domain":[-1,1],"nice":false},"axis":{"values":[-1,1],"format":"d","title":null,"grid":false,"labelOverlap":false,"tickCount":100}},
     "y2":{"field":"blo"}}},
   {"data":{"name":"stB"},"mark":{"type":"area","color":"#e8392e","opacity":0.85},
    "encoding":{"x":{"field":"t","type":"quantitative"},"y":{"field":"rhi","type":"quantitative"},"y2":{"field":"rlo"}}},
   {"data":{"name":"mkB"},"mark":{"type":"rule","color":"#c81e1e","strokeWidth":1},
    "encoding":{"x":{"field":"t","type":"quantitative"},"y":{"field":"lo","type":"quantitative"},"y2":{"field":"hi"}}}
  ]}
],"spacing":-2}
]
}
